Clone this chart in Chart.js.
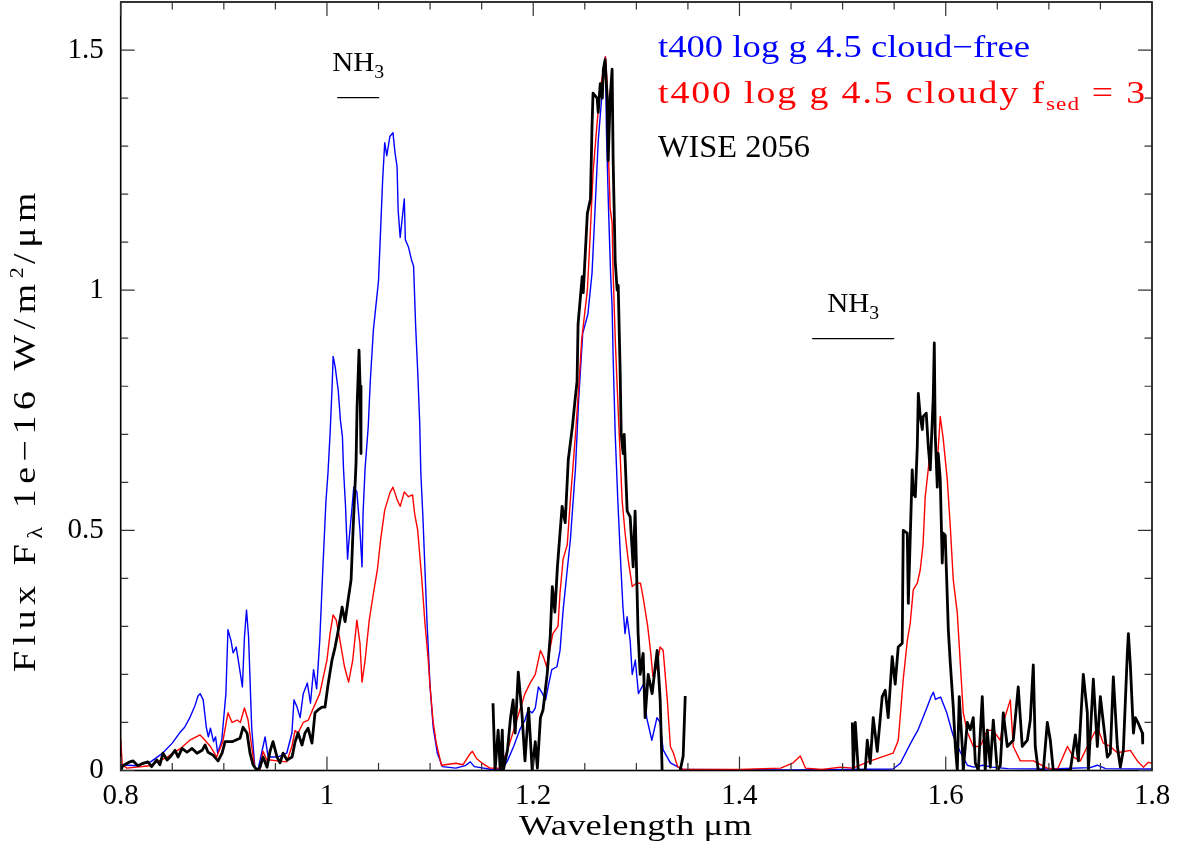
<!DOCTYPE html>
<html>
<head>
<meta charset="utf-8">
<script src="https://cdn.jsdelivr.net/npm/chart.js@4.4.1/dist/chart.umd.min.js"></script>
<style>
  html, body { margin: 0; padding: 0; background: #fff; }
  canvas { display: block; }
</style>
</head>
<body>
<canvas id="spec" width="1183" height="845"></canvas>
<script>
// Model spectrum: t400 log g 4.5 cloud-free
const blueWave = [0.800,0.815,0.829,0.840,0.850,0.857,0.862,0.867,0.872,0.875,0.877,0.880,0.883,0.885,0.887,0.890,0.892,0.894,0.898,0.902,
  0.904,0.907,0.909,0.912,0.914,0.918,0.920,0.922,0.924,0.927,0.930,0.933,0.938,0.940,0.943,0.952,0.961,0.966,0.968,0.971,
  0.974,0.977,0.981,0.984,0.987,0.990,0.993,0.996,0.999,1.001,1.003,1.005,1.006,1.008,1.011,1.013,1.015,1.016,1.018,1.020,
  1.021,1.024,1.026,1.029,1.032,1.034,1.035,1.037,1.040,1.042,1.045,1.050,1.052,1.054,1.056,1.058,1.061,1.064,1.066,1.068,
  1.069,1.071,1.075,1.076,1.079,1.082,1.084,1.086,1.088,1.090,1.091,1.093,1.095,1.097,1.100,1.103,1.107,1.112,1.125,1.134,
  1.139,1.143,1.160,1.170,1.175,1.181,1.187,1.192,1.195,1.199,1.202,1.205,1.209,1.212,1.215,1.218,1.223,1.226,1.229,1.233,
  1.236,1.241,1.244,1.248,1.253,1.257,1.260,1.263,1.267,1.270,1.271,1.273,1.275,1.2765,1.2775,1.2795,1.282,1.285,1.287,1.289,
  1.291,1.294,1.296,1.299,1.302,1.307,1.310,1.315,1.320,1.323,1.326,1.333,1.345,1.450,1.549,1.556,1.566,1.573,1.582,1.586,
  1.588,1.590,1.592,1.595,1.601,1.607,1.614,1.621,1.627,1.636,1.645,1.660,1.700,1.740,1.747,1.755,1.800];
const blueFlux = [0.012,0.010,0.018,0.035,0.057,0.078,0.090,0.110,0.135,0.155,0.160,0.147,0.090,0.070,0.088,0.060,0.070,0.036,0.063,0.160,
  0.293,0.270,0.245,0.257,0.230,0.174,0.278,0.334,0.278,0.090,0.008,0.000,0.050,0.070,0.028,0.028,0.036,0.078,0.147,0.132,
  0.110,0.160,0.182,0.140,0.210,0.170,0.270,0.420,0.560,0.620,0.700,0.800,0.862,0.840,0.790,0.730,0.695,0.630,0.550,0.440,
  0.470,0.540,0.590,0.580,0.500,0.424,0.535,0.630,0.715,0.810,0.917,1.020,1.125,1.230,1.307,1.280,1.320,1.328,1.286,1.257,
  1.167,1.110,1.190,1.105,1.090,1.063,1.050,0.925,0.830,0.720,0.620,0.530,0.420,0.310,0.174,0.090,0.036,0.008,0.005,0.010,
  0.018,0.008,0.002,0.003,0.020,0.050,0.085,0.105,0.126,0.120,0.130,0.174,0.160,0.147,0.180,0.210,0.216,0.250,0.334,0.418,
  0.480,0.630,0.770,0.910,0.950,1.035,1.170,1.310,1.417,1.486,1.330,1.170,1.035,0.965,0.860,0.700,0.563,0.424,0.340,0.285,
  0.320,0.270,0.200,0.230,0.160,0.180,0.110,0.063,0.110,0.100,0.043,0.016,0.002,0.001,0.003,0.015,0.057,0.084,0.132,0.155,
  0.163,0.148,0.150,0.153,0.120,0.074,0.039,0.011,0.007,0.011,0.007,0.004,0.003,0.006,0.011,0.004,0.003];

// Model spectrum: t400 log g 4.5 cloudy fsed = 3
const redWave = [0.800,0.8015,0.806,0.828,0.845,0.858,0.867,0.877,0.880,0.887,0.893,0.899,0.904,0.908,0.913,0.916,0.920,0.9235,0.927,0.930,
  0.935,0.938,0.942,0.945,0.952,0.961,0.966,0.969,0.972,0.977,0.982,0.986,0.993,1.000,1.003,1.006,1.009,1.012,1.017,1.021,
  1.025,1.029,1.032,1.034,1.037,1.041,1.045,1.049,1.052,1.056,1.061,1.064,1.068,1.071,1.075,1.079,1.083,1.085,1.088,1.092,
  1.095,1.098,1.100,1.103,1.106,1.111,1.125,1.132,1.1388,1.141,1.145,1.150,1.158,1.168,1.175,1.181,1.187,1.192,1.197,1.202,
  1.207,1.210,1.213,1.216,1.219,1.224,1.226,1.229,1.233,1.236,1.241,1.2445,1.247,1.2525,1.255,1.258,1.262,1.265,1.270,1.272,
  1.273,1.2746,1.2765,1.2775,1.2795,1.2814,1.2834,1.2862,1.2891,1.292,1.296,1.300,1.304,1.307,1.311,1.314,1.316,1.320,1.323,1.326,
  1.330,1.333,1.336,1.340,1.346,1.400,1.440,1.452,1.459,1.464,1.480,1.498,1.510,1.527,1.549,1.554,1.5588,1.5627,1.5656,1.5685,
  1.5724,1.5753,1.578,1.5801,1.583,1.586,1.5879,1.5898,1.5918,1.5947,1.5976,1.6015,1.6044,1.6073,1.6112,1.6141,1.617,1.6209,1.6267,1.6335,
  1.6403,1.6461,1.6529,1.6558,1.6626,1.6655,1.6723,1.685,1.6985,1.7083,1.718,1.7238,1.7305,1.7373,1.747,1.7528,1.7596,1.7664,1.779,1.7858,
  1.7916,1.7965,1.800];
const redFlux = [0.065,0.012,0.005,0.010,0.028,0.046,0.063,0.074,0.067,0.050,0.028,0.060,0.120,0.100,0.105,0.100,0.130,0.105,0.050,0.005,
  0.000,0.040,0.020,0.022,0.020,0.018,0.050,0.083,0.078,0.100,0.105,0.126,0.160,0.230,0.285,0.324,0.313,0.278,0.216,0.184,
  0.230,0.313,0.265,0.184,0.230,0.313,0.368,0.420,0.480,0.542,0.578,0.590,0.564,0.550,0.580,0.570,0.574,0.535,0.500,0.397,
  0.307,0.236,0.174,0.100,0.057,0.011,0.015,0.012,0.035,0.040,0.025,0.016,0.005,0.005,0.042,0.083,0.126,0.160,0.182,0.200,
  0.250,0.236,0.216,0.250,0.285,0.300,0.370,0.440,0.470,0.563,0.700,0.810,0.897,1.000,1.105,1.244,1.350,1.418,1.486,1.418,
  1.280,1.170,1.140,1.035,0.900,0.800,0.700,0.563,0.494,0.440,0.383,0.390,0.390,0.355,0.300,0.244,0.196,0.216,0.257,0.250,
  0.147,0.050,0.036,0.008,0.002,0.002,0.005,0.016,0.030,0.005,0.002,0.007,0.005,0.020,0.036,0.063,0.190,0.270,0.307,0.376,
  0.390,0.418,0.470,0.570,0.626,0.690,0.750,0.690,0.640,0.737,0.690,0.605,0.508,0.397,0.328,0.224,0.120,0.080,0.050,0.050,
  0.084,0.083,0.063,0.100,0.147,0.050,0.020,0.020,0.005,0.002,0.050,0.028,0.020,0.050,0.090,0.057,0.050,0.037,0.042,0.020,
  0.007,0.017,0.015];

// Observed spectrum: WISE 2056 (null = no data)
const wiseWave = [0.800,0.802,0.809,0.812,0.8167,0.8215,0.8264,0.830,0.835,0.838,0.841,0.845,0.8478,0.8527,0.8556,0.8595,0.8643,0.8692,0.874,0.8789,
  0.8818,0.8847,0.8895,0.8944,0.8983,0.9012,0.908,0.9157,0.9186,0.9225,0.9254,0.9283,0.9322,0.9351,0.938,0.9419,0.9448,0.9477,0.9516,0.9545,
  0.9574,0.9613,0.9662,0.9691,0.972,0.9758,0.9787,0.9817,0.9855,0.9884,0.9913,0.9952,0.9981,1.001,1.0049,1.0079,1.0108,1.0147,1.0176,1.0205,
  1.0234,1.0253,1.0282,1.0292,1.0311,1.0321,1.033,1.100,
  1.161,1.163,1.166,1.168,1.170,1.171,1.175,1.178,1.1805,1.1825,1.1855,1.189,1.192,1.1955,1.199,1.202,1.204,1.207,1.2095,1.2135,
  1.2165,1.2185,1.221,1.2235,1.228,1.231,1.234,1.238,1.2405,1.2425,1.2435,1.2475,1.2485,1.2525,1.2555,1.257,1.258,1.262,1.263,1.265,
  1.267,1.268,1.2697,1.2717,1.2727,1.2746,1.2765,1.2775,1.2795,1.2814,1.2824,1.2843,1.2853,1.2872,1.2882,1.2911,1.294,1.2969,1.2988,1.3017,
  1.3037,1.3066,1.3085,1.3115,1.3153,1.3183,1.3202,1.3231,1.325,1.333,1.3425,1.3454,1.3474,1.420,
  1.5094,1.5104,1.5123,1.5152,1.5219,1.5239,1.5268,1.5297,1.5336,1.5384,1.5413,1.5442,1.5481,1.551,1.5539,1.5578,1.5588,1.5627,1.5637,1.5675,
  1.5685,1.5705,1.5724,1.5734,1.5753,1.5773,1.5782,1.5811,1.5831,1.585,1.5879,1.5889,1.5898,1.5918,1.5927,1.5947,1.5966,1.5976,1.5995,1.6015,
  1.6025,1.6044,1.6073,1.6093,1.6112,1.6131,1.616,1.617,1.6209,1.6238,1.6267,1.6287,1.6316,1.6354,1.6383,1.6403,1.6432,1.6461,1.650,1.6529,
  1.6558,1.6597,1.6655,1.6703,1.6742,1.6791,1.682,1.6849,1.6868,1.6897,1.6946,1.6985,1.7014,1.7043,1.714,1.7208,1.7257,1.7286,1.7334,1.7373,
  1.7383,1.7431,1.747,1.7499,1.7528,1.7567,1.7596,1.7625,1.7664,1.7693,1.7722,1.7761,1.7771,1.779,1.782,1.7839,1.7868,1.7906,1.791];
const wiseFlux = [0.000,0.010,0.018,0.020,0.010,0.015,0.018,0.008,0.022,0.012,0.036,0.022,0.028,0.042,0.028,0.046,0.038,0.046,0.036,0.042,
  0.053,0.038,0.032,0.020,0.036,0.060,0.060,0.067,0.090,0.078,0.036,0.012,0.000,0.007,0.028,0.007,0.040,0.060,0.028,0.016,
  0.036,0.022,0.028,0.060,0.078,0.053,0.078,0.088,0.057,0.120,0.126,0.132,0.132,0.178,0.230,0.257,0.290,0.340,0.310,0.355,
  0.397,0.500,0.640,0.757,0.875,0.800,0.660,null,
  0.140,0.000,0.084,0.000,0.084,0.000,0.042,0.110,0.147,0.078,0.205,0.120,0.020,0.130,0.000,0.060,0.005,0.110,0.126,0.200,
  0.280,0.383,0.330,0.425,0.550,0.516,0.647,0.716,0.770,0.810,0.930,1.028,0.995,1.160,1.190,1.340,1.410,1.400,1.370,1.430,
  1.400,1.460,1.480,1.400,1.270,1.400,1.460,1.270,1.060,1.000,1.010,0.830,0.700,0.660,0.700,0.540,0.528,0.424,0.540,0.285,
  0.200,0.244,0.110,0.200,0.160,0.216,0.250,0.147,0.000,null,0.000,0.030,0.155,null,
  0.100,0.000,0.100,0.000,0.000,0.063,0.015,0.110,0.040,0.154,0.167,0.110,0.237,0.180,0.257,0.265,0.500,0.494,0.348,0.626,
  0.577,0.570,0.674,0.785,0.737,0.710,0.737,0.744,0.674,0.626,0.778,0.890,0.700,0.590,0.660,0.605,0.432,0.494,0.490,0.360,
  0.293,0.224,0.132,0.050,0.000,0.154,0.050,0.000,0.100,0.085,0.110,0.015,0.000,0.154,0.000,0.084,0.007,0.105,0.000,0.010,
  0.120,0.050,0.063,0.174,0.050,0.063,0.105,0.220,0.050,0.000,0.000,0.100,0.063,0.000,0.000,0.000,0.074,0.020,0.200,0.120,
  0.000,0.190,0.050,0.154,0.100,0.028,0.036,0.195,0.050,0.007,0.042,0.245,0.285,0.220,0.078,0.110,0.098,0.078,0.057];

// Axes
const xTickValues = [0.8, 1, 1.2, 1.4, 1.6, 1.8];
const xTickLabels = ["0.8", "1", "1.2", "1.4", "1.6", "1.8"];
const yTickValues = [0, 0.5, 1, 1.5];
const yTickLabels = ["0", "0.5", "1", "1.5"];
const xMinorStep = 0.05;
const yMinorStep = 0.1;

// NH3 band markers: [start, end, flux level]
const nh3Bands = [[1.010, 1.0506, 1.401], [1.4705, 1.550, 0.899]];

const FONT = '"Liberation Serif", "DejaVu Serif", serif';

function toPoints(wave, flux) {
  return wave.map((w, i) => ({ x: w, y: flux[i] }));
}

// Hàm vẽ một dòng chữ gồm nhiều đoạn (chỉ số trên / dưới):
// kéo giãn nhẹ theo chiều ngang, phần còn lại chia vào khoảng cách chữ
function drawRuns(ctx, runs, x, y, targetWidth) {
  const hasLS = "letterSpacing" in ctx;
  const base = runs[0].size;
  let total = 0;
  let count = 0;
  runs.forEach((r) => {
    if (hasLS) ctx.letterSpacing = "0px";
    ctx.font = r.size + "px " + FONT;
    total += ctx.measureText(r.t).width;
    count += r.t.length * (r.size / base);
  });
  let sx = 1;
  let ls = 0;
  if (targetWidth) {
    sx = targetWidth / total;
    if (hasLS && sx > 1.22) {
      sx = 1.22;
      ls = (targetWidth / sx - total) / count;
    }
  }
  ctx.save();
  ctx.translate(x, y);
  ctx.scale(sx, 1);
  let cx = 0;
  runs.forEach((r) => {
    ctx.font = r.size + "px " + FONT;
    if (hasLS) ctx.letterSpacing = (ls * r.size / base) + "px";
    ctx.fillText(r.t, cx, r.dy || 0);
    cx += ctx.measureText(r.t).width;
  });
  if (hasLS) ctx.letterSpacing = "0px";
  ctx.restore();
}

const framePlugin = {
  id: "frame",
  afterDatasetsDraw(chart) {
    const ctx = chart.ctx;
    const xs = chart.scales.x;
    const ys = chart.scales.y;
    const a = chart.chartArea;
    ctx.save();
    ctx.strokeStyle = "#000";
    ctx.lineWidth = 1.6;
    ctx.strokeRect(a.left, a.top, a.right - a.left, a.bottom - a.top);

    // ticks pointing inward on all four sides
    ctx.lineWidth = 1.2;
    ctx.strokeStyle = "#333";
    ctx.beginPath();
    for (let k = 0; ; k++) {
      const v = xs.min + k * xMinorStep;
      if (v > xs.max + 1e-9) break;
      const major = xTickValues.some((t) => Math.abs(t - v) < 1e-6);
      const len = major ? 14 : 7.5;
      const px = xs.getPixelForValue(v);
      ctx.moveTo(px, a.bottom); ctx.lineTo(px, a.bottom - len);
      ctx.moveTo(px, a.top); ctx.lineTo(px, a.top + len);
    }
    for (let k = 0; ; k++) {
      const v = ys.min + k * yMinorStep;
      if (v > ys.max + 1e-9) break;
      const major = yTickValues.some((t) => Math.abs(t - v) < 1e-6);
      const len = major ? 14 : 7.5;
      const py = ys.getPixelForValue(v);
      ctx.moveTo(a.left, py); ctx.lineTo(a.left + len, py);
      ctx.moveTo(a.right, py); ctx.lineTo(a.right - len, py);
    }
    ctx.stroke();

    // NH3 bands
    ctx.strokeStyle = "#000";
    ctx.lineWidth = 1.2;
    ctx.fillStyle = "#000";
    ctx.textBaseline = "alphabetic";
    nh3Bands.forEach((b) => {
      const x0 = xs.getPixelForValue(b[0]);
      const x1 = xs.getPixelForValue(b[1]);
      const py = ys.getPixelForValue(b[2]);
      ctx.beginPath();
      ctx.moveTo(x0, py); ctx.lineTo(x1, py);
      ctx.stroke();
      const runs = [{ t: "NH", size: 28 }, { t: "3", size: 19, dy: 7 }];
      const w = 52;
      drawRuns(ctx, runs, (x0 + x1) / 2 - w / 2, py - 27, w);
    });

    // legend lines
    ctx.fillStyle = "#0000ff";
    drawRuns(ctx, [{ t: "t400 log g 4.5 cloud\u2212free", size: 31 }], 658, 57, 372);
    ctx.fillStyle = "#ff0000";
    drawRuns(ctx, [
      { t: "t400 log g 4.5 cloudy f", size: 31 },
      { t: "sed", size: 19, dy: 7 },
      { t: " = 3", size: 31 },
    ], 658, 103, 489);
    ctx.fillStyle = "#000";
    drawRuns(ctx, [{ t: "WISE 2056", size: 31 }], 658, 157, 152);

    // axis titles
    drawRuns(ctx, [{ t: "Wavelength \u03bcm", size: 30 }], 519, 835, 233);
    ctx.save();
    ctx.translate(35, 672);
    ctx.rotate(-Math.PI / 2);
    drawRuns(ctx, [
      { t: "Flux F", size: 31 },
      { t: "\u03bb", size: 20, dy: 7 },
      { t: " 1e\u221216 W/m", size: 31 },
      { t: "2", size: 18, dy: -12 },
      { t: "/\u03bcm", size: 31 },
    ], 0, 0, 485);
    ctx.restore();
    ctx.restore();
  },
};

const chart = new Chart(document.getElementById("spec"), {
  type: "line",
  data: {
    datasets: [
      { label: "WISE 2056", data: toPoints(wiseWave, wiseFlux), borderColor: "#000000", borderWidth: 2.8, order: 0 },
      { label: "cloudy", data: toPoints(redWave, redFlux), borderColor: "#ff0000", borderWidth: 1.4, order: 1 },
      { label: "cloud-free", data: toPoints(blueWave, blueFlux), borderColor: "#0000ff", borderWidth: 1.4, order: 2 },
    ],
  },
  options: {
    responsive: false,
    animation: false,
    spanGaps: false,
    elements: { point: { radius: 0 }, line: { tension: 0, borderJoinStyle: "round" } },
    layout: { padding: { left: 0, right: 31, top: 2, bottom: 0 } },
    plugins: { legend: { display: false }, tooltip: { enabled: false } },
    scales: {
      x: {
        type: "linear",
        min: 0.8,
        max: 1.8,
        grid: { display: false, drawTicks: false },
        border: { display: false },
        afterBuildTicks: (s) => { s.ticks = xTickValues.map((v) => ({ value: v })); },
        afterFit: (s) => { s.height = 74.5; s.paddingLeft = 0; s.paddingRight = 0; },
        ticks: {
          color: "#000", font: { family: FONT, size: 29 }, padding: 8, maxRotation: 0, autoSkip: false,
          callback: (v, i) => xTickLabels[i],
        },
      },
      y: {
        type: "linear",
        min: 0,
        max: 1.6,
        grid: { display: false, drawTicks: false },
        border: { display: false },
        afterBuildTicks: (s) => { s.ticks = yTickValues.map((v) => ({ value: v })); },
        afterFit: (s) => { s.width = 120.7; s.paddingTop = 0; s.paddingBottom = 0; },
        ticks: {
          color: "#000", font: { family: FONT, size: 29 }, padding: 17,
          callback: (v, i) => yTickLabels[i],
        },
      },
    },
  },
  plugins: [framePlugin],
});
</script>
</body>
</html>
